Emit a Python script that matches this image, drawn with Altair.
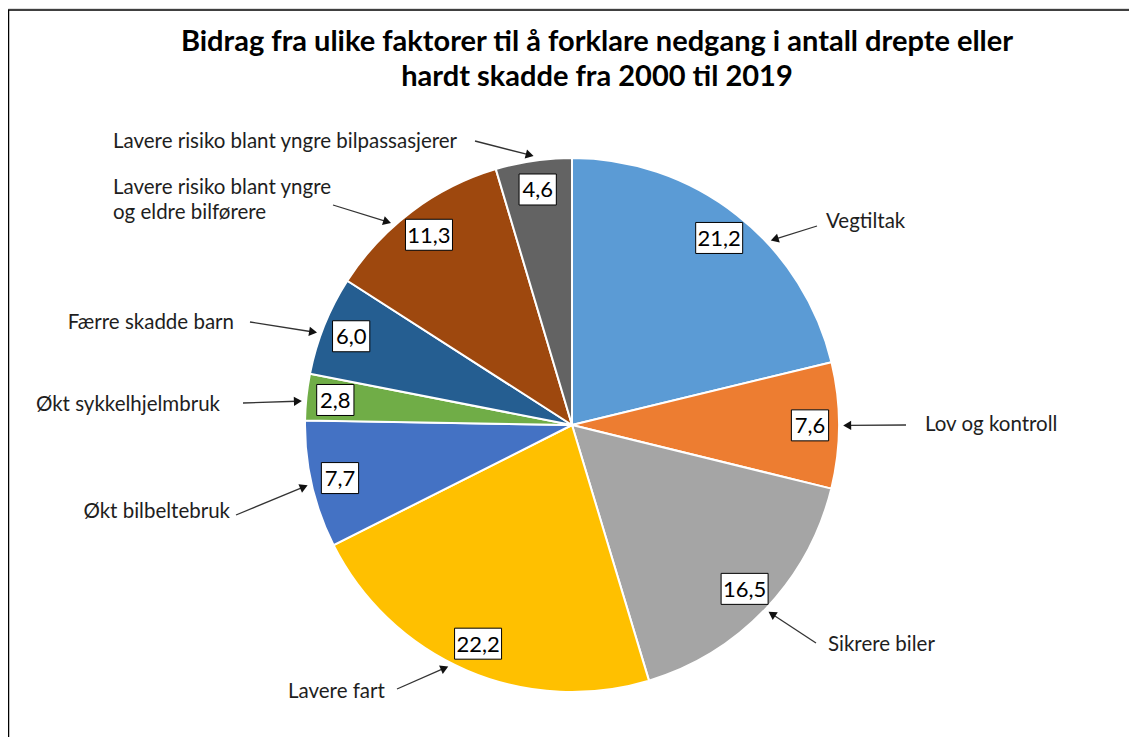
import math
import altair as alt
import pandas as pd

# ---------------- data ----------------
categories = [
    "Vegtiltak",
    "Lov og kontroll",
    "Sikrere biler",
    "Lavere fart",
    "Økt bilbeltebruk",
    "Økt sykkelhjelmbruk",
    "Færre skadde barn",
    "Lavere risiko blant yngre og eldre bilførere",
    "Lavere risiko blant yngre bilpassasjerer",
]
values = [21.2, 7.6, 16.5, 22.2, 7.7, 2.8, 6.0, 11.3, 4.6]
annotation_lines = [
    ["Vegtiltak"],
    ["Lov og kontroll"],
    ["Sikrere biler"],
    ["Lavere fart"],
    ["Økt bilbeltebruk"],
    ["Økt sykkelhjelmbruk"],
    ["Færre skadde barn"],
    ["Lavere risiko blant yngre", "og eldre bilførere"],
    ["Lavere risiko blant yngre bilpassasjerer"],
]
title_lines = [
    "Bidrag fra ulike faktorer til å forklare nedgang i antall drepte eller",
    "hardt skadde fra 2000 til 2019",
]

# ---------------- style / layout ----------------
colors = ["#5B9BD5", "#ED7D31", "#A5A5A5", "#FFC000", "#4472C4",
          "#70AD47", "#255E91", "#9E480E", "#636363"]
M = 8  # page margin (screen -> chart coords)
W, H = 1121, 729
CX, CY, R = 572 - M, 425 - M, 267
LABEL_R = 238
TIP_R = 272
FONT = "Lato"

# per-annotation layout: text anchor (screen), alignment, arrow tail (screen), tip angle offset
ann_layout = [
    dict(tx=826, ty=222, align="left", tail=(817, 226), off=9),
    dict(tx=925, ty=425, align="left", tail=(906, 425), off=0),
    dict(tx=828, ty=645, align="left", tail=(816, 643), off=0),
    dict(tx=288, ty=692, align="left", tail=(397, 689), off=4),
    dict(tx=230, ty=512, align="right", tail=(236, 515), off=0),
    dict(tx=220, ty=405, align="right", tail=(243, 403), off=-1),
    dict(tx=234, ty=323, align="right", tail=(250, 322), off=-2),
    dict(tx=113, ty=188, align="left", tail=(333, 205), off=-5),
    dict(tx=113, ty=142, align="left", tail=(475, 141), off=0),
]

# ---------------- derived tables ----------------
total = sum(values)
pie = pd.DataFrame({"cat": categories, "value": values, "order": range(len(values))})

rows_lbl, rows_txt, rows_arrow = [], [], []
cum = 0.0
for i, (c, v) in enumerate(zip(categories, values)):
    mid = (cum + v / 2) / total * 360.0
    cum += v
    a = math.radians(mid)
    lx = CX + LABEL_R * math.sin(a)
    ly = CY - LABEL_R * math.cos(a)
    s = f"{v:.1f}".replace(".", ",")
    bw = 8 + 9.75 * len(s)
    bh = 31
    rows_lbl.append(dict(x=lx, y=ly, x1=lx - bw / 2, x2=lx + bw / 2,
                         y1=ly - bh / 2, y2=ly + bh / 2, label=s))

    lay = ann_layout[i]
    for k, line in enumerate(annotation_lines[i]):
        rows_txt.append(dict(x=lay["tx"] - M, y=lay["ty"] - M + k * 25,
                             text=line, align=lay["align"]))
    ta = math.radians(mid + lay["off"])
    tipx = CX + TIP_R * math.sin(ta)
    tipy = CY - TIP_R * math.cos(ta)
    tx0, ty0 = lay["tail"][0] - M, lay["tail"][1] - M
    dx, dy = tipx - tx0, tipy - ty0
    L = math.hypot(dx, dy)
    ux, uy = dx / L, dy / L
    hx, hy = tipx - 4.5 * ux, tipy - 4.5 * uy
    ang = math.degrees(math.atan2(dx, -dy)) % 360
    rows_arrow.append(dict(x=tx0, y=ty0, x2=hx, y2=hy, hx=hx, hy=hy, ang=ang))

lbl = pd.DataFrame(rows_lbl)
txt = pd.DataFrame(rows_txt)
arr = pd.DataFrame(rows_arrow)
ttl = pd.DataFrame({"text": title_lines, "x": [597 - M] * 2, "y": [42 - M, 77 - M]})

def px(f):
    return alt.X(f, type="quantitative", scale=None, axis=None)

def py(f):
    return alt.Y(f, type="quantitative", scale=None, axis=None)

# ---------------- layers ----------------
frame_top = alt.Chart(pd.DataFrame({"a": [0]})).mark_rule(color="#000", strokeWidth=1.5).encode(
    x=alt.value(0), x2=alt.value(W), y=alt.value(2))
frame_left = alt.Chart(pd.DataFrame({"a": [0]})).mark_rule(color="#000", strokeWidth=1.5).encode(
    x=alt.value(0.5), y=alt.value(2), y2=alt.value(H))

arcs = alt.Chart(pie).mark_arc(radius=R, stroke="white", strokeWidth=2).encode(
    theta=alt.Theta("value:Q", stack=True),
    order=alt.Order("order:Q"),
    color=alt.Color("cat:N", scale=alt.Scale(domain=categories, range=colors), legend=None),
    x=alt.value(CX), y=alt.value(CY),
)

boxes = alt.Chart(lbl).mark_rect(fill="white", stroke="#000", strokeWidth=1).encode(
    x=px("x1"), x2="x2", y=py("y1"), y2="y2")
labels = alt.Chart(lbl).mark_text(font=FONT, fontSize=22, color="#000", baseline="middle",
                                  align="center", dy=1).encode(
    x=px("x"), y=py("y"), text="label:N")

rules = alt.Chart(arr).mark_rule(color="#333", strokeWidth=1.3).encode(
    x=px("x"), y=py("y"), x2="x2", y2="y2")
heads = alt.Chart(arr).mark_point(shape="triangle", filled=True, size=85, color="#111",
                                  opacity=1).encode(
    x=px("hx"), y=py("hy"), angle=alt.Angle("ang:Q", scale=None))

txt_left = alt.Chart(txt[txt["align"] == "left"]).mark_text(
    font=FONT, fontSize=20.5, color="#1e1e1e", align="left", baseline="middle").encode(
    x=px("x"), y=py("y"), text="text:N")
txt_right = alt.Chart(txt[txt["align"] == "right"]).mark_text(
    font=FONT, fontSize=20.5, color="#1e1e1e", align="right", baseline="middle").encode(
    x=px("x"), y=py("y"), text="text:N")

title = alt.Chart(ttl).mark_text(font=FONT, fontSize=29, fontWeight="bold", color="#000",
                                 align="center", baseline="middle").encode(
    x=px("x"), y=py("y"), text="text:N")

chart = alt.layer(
    frame_top, frame_left, arcs, rules, heads, boxes, labels, txt_left, txt_right, title
).properties(
    width=W, height=H, padding=0, autosize=alt.AutoSizeParams(type="none")
).configure_view(stroke=None).configure(background="white")

chart.save("out.html", embed_options={"renderer": "svg", "actions": False})
